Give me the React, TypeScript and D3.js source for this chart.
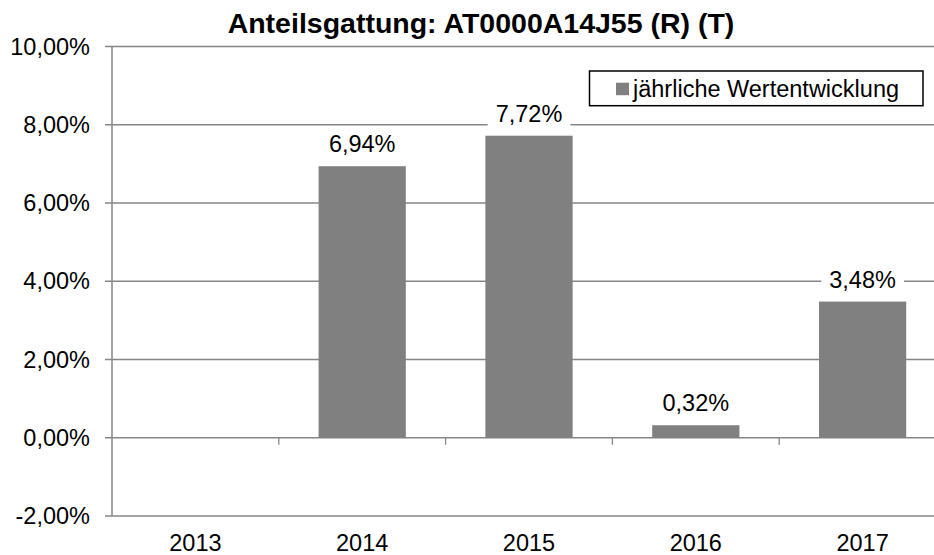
import React, { useEffect, useRef } from "react";
import * as d3 from "d3";

const categories = ["2013", "2014", "2015", "2016", "2017"];
const values: (number | null)[] = [null, 6.94, 7.72, 0.32, 3.48];
const yTicks = [-2, 0, 2, 4, 6, 8, 10];
const title = "Anteilsgattung: AT0000A14J55 (R) (T)";
const legendLabel = "jährliche Wertentwicklung";

const W = 934;
const H = 555;
const FONT = "'Liberation Sans', Arial, sans-serif";
const fmt = (v: number) => v.toFixed(2).replace(".", ",") + "%";

export default function App() {
  const ref = useRef<SVGSVGElement | null>(null);

  useEffect(() => {
    const svg = d3.select(ref.current);
    svg.selectAll("*").remove();

    const left = 112;
    const right = 946;
    const y = d3.scaleLinear().domain([-2, 10]).range([516, 46.5]);
    const x = d3.scaleBand<string>().domain(categories).range([left, right]).padding(0);
    const barW = x.bandwidth() * 0.523;
    const grid = "#868686";

    svg.append("rect").attr("width", W).attr("height", H).attr("fill", "#fff");

    // gridlines
    svg
      .append("g")
      .selectAll("line")
      .data(yTicks)
      .join("line")
      .attr("x1", left - 7)
      .attr("x2", right)
      .attr("y1", (d) => y(d))
      .attr("y2", (d) => y(d))
      .attr("stroke", grid)
      .attr("stroke-width", 1.3);

    // y axis line
    svg
      .append("line")
      .attr("x1", left)
      .attr("x2", left)
      .attr("y1", y(10))
      .attr("y2", y(-2))
      .attr("stroke", grid)
      .attr("stroke-width", 1.5);

    // category ticks at zero line
    const boundaries = categories.slice(1).map((c) => x(c) as number);
    svg
      .append("g")
      .selectAll("line")
      .data(boundaries)
      .join("line")
      .attr("x1", (d) => d)
      .attr("x2", (d) => d)
      .attr("y1", y(0))
      .attr("y2", y(0) + 7)
      .attr("stroke", grid)
      .attr("stroke-width", 1.3);

    // y tick labels
    svg
      .append("g")
      .selectAll("text")
      .data(yTicks)
      .join("text")
      .attr("x", 90)
      .attr("y", (d) => y(d) + 8)
      .attr("text-anchor", "end")
      .attr("font-family", FONT)
      .attr("font-size", 23.5)
      .attr("fill", "#000")
      .text((d) => fmt(d));

    // x labels
    svg
      .append("g")
      .selectAll("text")
      .data(categories)
      .join("text")
      .attr("x", (d) => (x(d) as number) + x.bandwidth() / 2)
      .attr("y", 551)
      .attr("text-anchor", "middle")
      .attr("font-family", FONT)
      .attr("font-size", 23.5)
      .attr("fill", "#000")
      .text((d) => d);

    const data = categories.map((c, i) => ({ c, v: values[i] }));
    const withVal = data.filter((d) => d.v !== null) as { c: string; v: number }[];

    // bars
    svg
      .append("g")
      .selectAll("rect")
      .data(withVal)
      .join("rect")
      .attr("x", (d) => (x(d.c) as number) + (x.bandwidth() - barW) / 2)
      .attr("width", barW)
      .attr("y", (d) => y(Math.max(0, d.v)))
      .attr("height", (d) => Math.abs(y(d.v) - y(0)))
      .attr("fill", "#808080");

    // data labels with white background
    const lg = svg.append("g");
    withVal.forEach((d) => {
      const cx = (x(d.c) as number) + x.bandwidth() / 2;
      const by = y(d.v) - 14;
      const g = lg.append("g");
      const bg = g.append("rect").attr("fill", "#fff");
      const t = g
        .append("text")
        .attr("x", cx)
        .attr("y", by)
        .attr("text-anchor", "middle")
        .attr("font-family", FONT)
        .attr("font-size", 23.5)
        .attr("fill", "#000")
        .text(fmt(d.v));
      const bb = (t.node() as SVGTextElement).getBBox();
      bg.attr("x", bb.x - 8)
        .attr("y", bb.y)
        .attr("width", bb.width + 16)
        .attr("height", bb.height + 4);
    });

    // title
    svg
      .append("text")
      .attr("x", 481)
      .attr("y", 33)
      .attr("text-anchor", "middle")
      .attr("font-family", FONT)
      .attr("font-weight", "bold")
      .attr("font-size", 28.5)
      .attr("fill", "#000")
      .text(title);

    // legend
    const leg = svg.append("g");
    leg
      .append("rect")
      .attr("x", 589.5)
      .attr("y", 71)
      .attr("width", 333.5)
      .attr("height", 34.7)
      .attr("fill", "#fff")
      .attr("stroke", "#000")
      .attr("stroke-width", 1.5);
    leg
      .append("rect")
      .attr("x", 616)
      .attr("y", 82.7)
      .attr("width", 13)
      .attr("height", 12.5)
      .attr("fill", "#808080");
    leg
      .append("text")
      .attr("x", 633)
      .attr("y", 96.5)
      .attr("font-family", FONT)
      .attr("font-size", 23.5)
      .attr("fill", "#000")
      .text(legendLabel);
  }, []);

  return (
    <svg
      ref={ref}
      width={W}
      height={H}
      style={{ position: "absolute", left: 0, top: 0, display: "block" }}
    />
  );
}
